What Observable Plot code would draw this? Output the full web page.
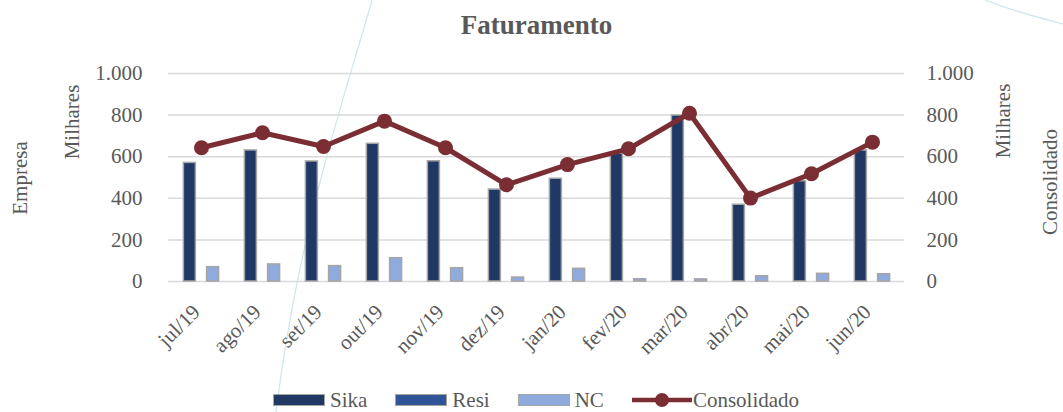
<!DOCTYPE html>
<html>
<head>
<meta charset="utf-8">
<script src="https://cdn.jsdelivr.net/npm/d3@7"></script>
<script src="https://cdn.jsdelivr.net/npm/@observablehq/plot@0.6"></script>
<style>
  html, body { margin: 0; padding: 0; background: #fff; overflow: hidden; }
  #wrap { position: relative; width: 1063px; height: 412px; font-family: "Liberation Serif", serif; color: #595959; }
  #deco { position: absolute; left: 0; top: 0; z-index: 0; pointer-events: none; }
  #title { position: relative; z-index: 1; height: 44px; line-height: 50px; text-align: center; font-size: 27px; font-weight: bold; padding-left: 10px; }
  #chart { position: relative; z-index: 1; height: 344px; }
  #legend { position: relative; z-index: 1; height: 24px; line-height: 24px; display: flex; align-items: center; font-size: 21px; padding-left: 273px; }
  .item { display: flex; align-items: center; margin-right: 28px; }
  .sw { width: 52px; height: 12px; border: 1.5px solid #a5a5a5; margin-right: 5px; box-sizing: border-box; }
</style>
</head>
<body>
<div id="wrap">
  <svg id="deco" width="1063" height="412"></svg>
  <div id="title">Faturamento</div>
  <div id="chart"></div>
  <div id="legend"></div>
</div>
<script>
const months = ["jul/19","ago/19","set/19","out/19","nov/19","dez/19","jan/20","fev/20","mar/20","abr/20","mai/20","jun/20"];
const sika = [570, 630, 577, 662, 578, 442, 494, 614, 798, 369, 482, 630];
const resi = [0, 0, 0, 0, 0, 0, 0, 0, 0, 0, 0, 0];
const nc = [69, 82, 74, 112, 64, 19, 61, 11, 10, 25, 37, 35];
const consolidado = [643, 715, 649, 771, 643, 465, 562, 638, 809, 401, 518, 670];
const yTicks = [0, 200, 400, 600, 800, 1000];
const seriesNames = ["Sika", "Resi", "NC", "Consolidado"];
const colors = {Sika: "#1f3864", Resi: "#2f5597", NC: "#8faadc", Consolidado: "#7b2d34"};

const data = months.map((m, i) => ({month: m, sika: sika[i], resi: resi[i], nc: nc[i], cons: consolidado[i]}));
const fmt = d3.formatLocale({decimal: ",", thousands: ".", grouping: [3], currency: ["R$", ""]}).format(",");

// decorative background curves
const deco = d3.select("#deco");
deco.append("path").attr("d", "M372,0 C350,80 300,220 276,412").attr("fill", "none").attr("stroke", "#cfe6ec").attr("stroke-width", 1.2);
deco.append("path").attr("d", "M985,0 C1010,10 1040,18 1063,24").attr("fill", "none").attr("stroke", "#cfe6ec").attr("stroke-width", 1.2);

const barStyle = {stroke: "#a5a5a5", strokeWidth: 1.5};
const bw = 11.6;

const plot = Plot.plot({
  width: 1063,
  height: 344,
  marginTop: 29,
  marginBottom: 107,
  marginLeft: 168,
  marginRight: 159,
  style: {fontFamily: "Liberation Serif, serif", fontSize: "21px", color: "#595959", background: "transparent", overflow: "visible"},
  x: {type: "band", domain: months, paddingInner: 0.81, paddingOuter: 0.39, label: null},
  y: {domain: [0, 1000], label: null},
  marks: [
    Plot.gridY(yTicks, {stroke: "#d9d9d9", strokeOpacity: 1, strokeWidth: 1.5}),
    Plot.axisY(yTicks, {anchor: "left", tickSize: 0, tickPadding: 26, tickFormat: fmt, label: null, fontSize: 21}),
    Plot.axisY(yTicks, {anchor: "right", tickSize: 0, tickPadding: 22, tickFormat: fmt, label: null, textAnchor: "start", fontSize: 21}),
    Plot.axisX({tickRotate: -45, tickSize: 0, tickPadding: 27, label: null, fontSize: 21, dx: -5}),
    Plot.barY(data, {x: "month", y: "sika", fill: colors.Sika, dx: -bw, ...barStyle}),
    Plot.barY(data, {x: "month", y: "resi", fill: colors.Resi, dx: 0, ...barStyle}),
    Plot.barY(data, {x: "month", y: "nc", fill: colors.NC, dx: bw, ...barStyle}),
    Plot.line(data, {x: "month", y: "cons", stroke: colors.Consolidado, strokeWidth: 5}),
    Plot.dot(data, {x: "month", y: "cons", fill: colors.Consolidado, r: 7.5})
  ]
});
document.getElementById("chart").appendChild(plot);

// axis titles
const svg = d3.select(plot);
const top0 = 44;
const titles = [
  {t: "Empresa", x: 20, y: 178 - top0},
  {t: "Milhares", x: 72, y: 122 - top0},
  {t: "Milhares", x: 1003, y: 121 - top0},
  {t: "Consolidado", x: 1050, y: 182 - top0}
];
titles.forEach(d => {
  svg.append("text")
    .attr("transform", `translate(${d.x},${d.y}) rotate(-90)`)
    .attr("text-anchor", "middle")
    .attr("dy", "0.35em")
    .attr("fill", "#595959")
    .attr("font-size", 21)
    .attr("font-family", "Liberation Serif, serif")
    .text(d.t);
});

// legend
const legend = d3.select("#legend");
seriesNames.forEach(name => {
  const it = legend.append("div").attr("class", "item");
  if (name === "Consolidado") {
    const s = it.append("svg").attr("width", 60).attr("height", 18).style("margin-right", "1px");
    s.append("line").attr("x1", 0).attr("x2", 60).attr("y1", 9).attr("y2", 9).attr("stroke", colors[name]).attr("stroke-width", 4.5);
    s.append("circle").attr("cx", 30).attr("cy", 9).attr("r", 7).attr("fill", colors[name]);
  } else {
    it.append("div").attr("class", "sw").style("background", colors[name]);
  }
  it.append("span").text(name);
});
</script>
</body>
</html>
